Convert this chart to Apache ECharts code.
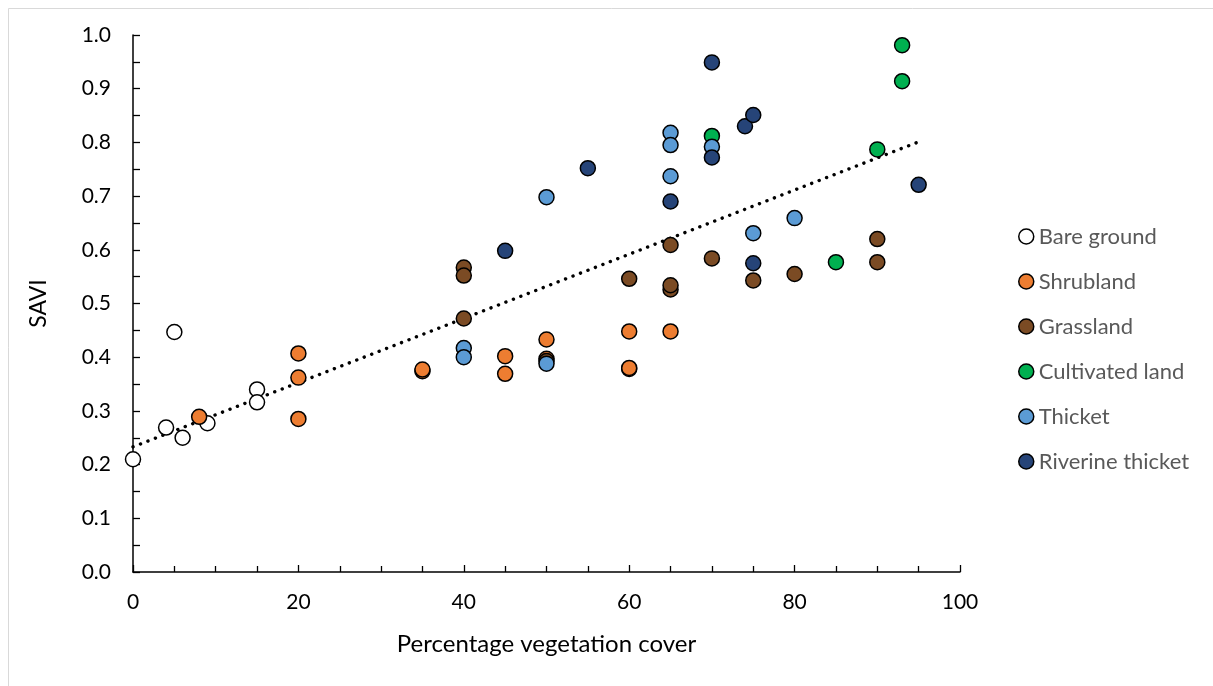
<!DOCTYPE html>
<html><head><meta charset="utf-8">
<script src="https://cdn.jsdelivr.net/npm/echarts@6/dist/echarts.min.js"></script>
<style>html,body{margin:0;padding:0;background:#fff}#c{width:1213px;height:686px}</style>
</head><body><div id="c"></div>
<script>
const seriesNames = ['Bare ground','Shrubland','Grassland','Cultivated land','Thicket','Riverine thicket'];
const seriesColors = ['#FFFFFF','#ED7D31','#7B4B24','#00B050','#5B9BD5','#264478'];
const bareGround = [[0,0.210],[4,0.269],[5,0.447],[6,0.250],[9,0.277],[15,0.340],[15,0.316]];
const shrubland = [[8,0.289],[20,0.407],[20,0.362],[20,0.285],[35,0.374],[35,0.377],[45,0.402],[45,0.369],[50,0.433],[50,0.397],[60,0.448],[60,0.378],[60,0.380],[65,0.448]];
const grassland = [[40,0.567],[40,0.552],[40,0.472],[50,0.393],[60,0.546],[65,0.609],[65,0.526],[65,0.534],[70,0.584],[75,0.543],[80,0.555],[90,0.620],[90,0.577]];
const cultivated = [[70,0.812],[85,0.577],[90,0.787],[93,0.981],[93,0.914]];
const thicket = [[40,0.417],[40,0.400],[50,0.388],[50,0.698],[65,0.818],[65,0.795],[65,0.737],[70,0.792],[75,0.631],[80,0.659]];
const riverine = [[45,0.598],[55,0.752],[65,0.690],[70,0.949],[70,0.772],[74,0.830],[75,0.851],[75,0.575],[95,0.721]];
const trendLine = [[0,0.233],[95,0.801]];
const xTicks = {min:0,max:100,interval:20};
const yTicks = {min:0,max:1,interval:0.1};

const allData = [bareGround, shrubland, grassland, cultivated, thicket, riverine];
const font = 'Lato, "Open Sans", sans-serif';
const chart = echarts.init(document.getElementById('c'), null, {renderer:'canvas'});
const series = allData.map((d,i)=>({
  name: seriesNames[i], type:'scatter', data:d, symbol:'circle', symbolSize:15,
  itemStyle:{color:seriesColors[i], borderColor:'#000', borderWidth:1.5, opacity:1},
  emphasis:{disabled:true}, z: 3+i
}));
series.unshift({
  name:'trend', type:'line', data:trendLine, symbol:'none', silent:true, z:2,
  lineStyle:{color:'#000', width:3.4, type:[0.1,7.9], cap:'round'}
});
chart.setOption({
  animation:false,
  backgroundColor:'#fff',
  graphic:[{type:'rect', shape:{x:8.5,y:8.5,width:1300,height:800}, style:{fill:'none', stroke:'#D9D9D9', lineWidth:1}, silent:true}],
  grid:{left:133,right:253,top:35,bottom:114,containLabel:false},
  legend:{
    orient:'vertical', left:1013, top:220, itemGap:22, itemWidth:15, itemHeight:15,
    icon:'circle',
    data: seriesNames.map((n,i)=>({name:n, itemStyle:{color:seriesColors[i], borderColor:'#000', borderWidth:1.5}})),
    textStyle:{color:'#595959', fontSize:22, fontFamily:font, lineHeight:23, padding:[0,0,0,0]}
  },
  xAxis:{
    type:'value', min:xTicks.min, max:xTicks.max, interval:xTicks.interval,
    name:'Percentage vegetation cover', nameLocation:'middle', nameGap:60,
    nameTextStyle:{color:'#000', fontSize:24, fontFamily:font},
    axisLine:{show:true, onZero:false, lineStyle:{color:'#000', width:1.5}},
    axisTick:{show:true, inside:true, length:7, lineStyle:{color:'#000', width:1.3}},
    minorTick:{show:true, splitNumber:4, length:6, lineStyle:{color:'#000', width:1.3}},
    axisLabel:{color:'#000', fontSize:21, fontFamily:font, margin:20},
    splitLine:{show:false}
  },
  yAxis:{
    type:'value', min:yTicks.min, max:yTicks.max, interval:yTicks.interval,
    name:'SAVI', nameLocation:'middle', nameGap:83, nameRotate:90,
    nameTextStyle:{color:'#000', fontSize:23, fontFamily:font},
    axisLine:{show:true, onZero:false, lineStyle:{color:'#000', width:1.5}},
    axisTick:{show:true, inside:true, length:7, lineStyle:{color:'#000', width:1.3}},
    minorTick:{show:true, splitNumber:2, length:7, lineStyle:{color:'#000', width:1.3}},
    axisLabel:{color:'#000', fontSize:21, fontFamily:font, margin:22, formatter:v=>v.toFixed(1)},
    splitLine:{show:false}
  },
  series: series
});
</script></body></html>
